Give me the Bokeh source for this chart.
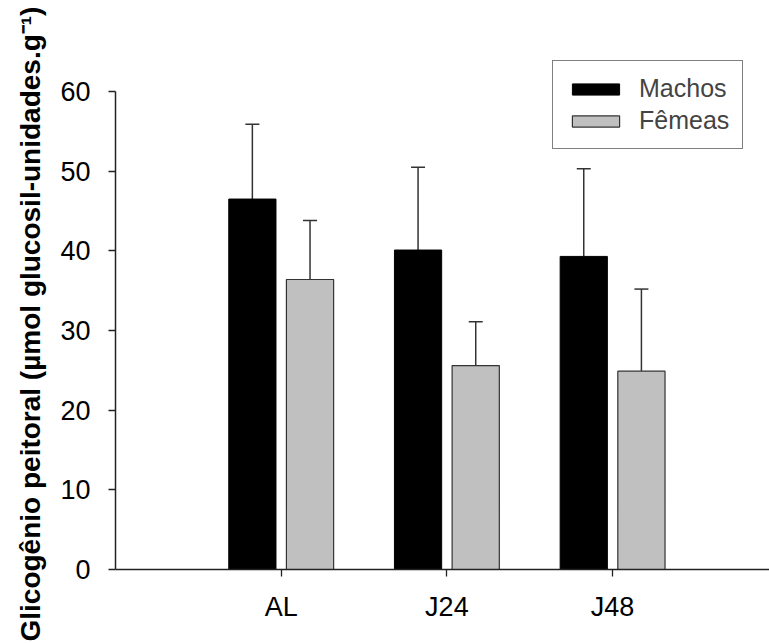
from bokeh.plotting import figure
from bokeh.models import (ColumnDataSource, Range1d, FixedTicker, Whisker, TeeHead,
                          Legend, LegendItem, Title)
from bokeh.embed import file_html
from bokeh.resources import INLINE

categories = ["AL", "J24", "J48"]
machos = [46.5, 40.1, 39.3]
machos_err = [9.4, 10.4, 11.0]
femeas = [36.4, 25.6, 24.9]
femeas_err = [7.4, 5.5, 10.3]
y_ticks = [0, 10, 20, 30, 40, 50, 60]
y_title = "Glicogênio peitoral (µmol glucosil-unidades.g⁻¹)"

FONT = "Liberation Sans"
offset = 0.174
bar_w = 0.285

pos = [i + 1 for i in range(len(categories))]
src_m = ColumnDataSource(dict(x=[p - offset for p in pos], top=machos,
                              upper=[v + e for v, e in zip(machos, machos_err)]))
src_f = ColumnDataSource(dict(x=[p + offset for p in pos], top=femeas,
                              upper=[v + e for v, e in zip(femeas, femeas_err)]))

# frame: 60 units over 478 px; extra headroom above 60 to hold the legend
frame_h = 519
y_top = 60 * frame_h / 478

p = figure(frame_width=654, frame_height=frame_h, output_backend="svg", toolbar_location=None,
           x_range=Range1d(0, 3.947), y_range=Range1d(0, y_top),
           min_border_left=115, min_border_top=569 - frame_h, min_border_bottom=74,
           min_border_right=0)
p.outline_line_color = None
p.xgrid.visible = False
p.ygrid.visible = False
p.background_fill_color = "white"

rm = p.vbar(x="x", top="top", width=bar_w, source=src_m, fill_color="black",
            line_color="black", line_width=1)
rf = p.vbar(x="x", top="top", width=bar_w, source=src_f, fill_color="#c0c0c0",
            line_color="#333333", line_width=1.2)

for src in (src_m, src_f):
    w = Whisker(base="x", lower="top", upper="upper", source=src,
                line_color="#333333", line_width=1.5,
                upper_head=TeeHead(size=14, line_color="#333333", line_width=1.5),
                lower_head=None)
    p.add_layout(w)

# axes
for ax in (p.xaxis[0], p.yaxis[0]):
    ax.axis_line_color = "#222222"
    ax.axis_line_width = 1.5
    ax.major_tick_line_color = "#222222"
    ax.major_tick_line_width = 1.3
    ax.major_tick_out = 7
    ax.major_tick_in = 0
    ax.minor_tick_line_color = None
    ax.major_label_text_font = FONT
    ax.major_label_text_font_size = "27px"
    ax.major_label_text_color = "black"

p.xaxis.major_label_standoff = 15
p.yaxis.major_label_standoff = 18
p.xaxis.ticker = FixedTicker(ticks=pos)
p.xaxis.major_label_overrides = {pp: c for pp, c in zip(pos, categories)}
p.yaxis.ticker = FixedTicker(ticks=y_ticks)
p.yaxis.bounds = (0, 60)

ttl = Title(text=y_title, align="left", offset=-72, standoff=24,
            text_font=FONT, text_font_style="bold", text_font_size="28px",
            text_color="black")
p.add_layout(ttl, "left")

legend = Legend(items=[LegendItem(label="Machos", renderers=[rm]),
                       LegendItem(label="Fêmeas", renderers=[rf])],
                location=(437, 420), orientation="vertical",
                label_text_font=FONT, label_text_font_size="25px",
                glyph_width=59, glyph_height=14, label_standoff=14,
                spacing=3, padding=13, margin=0,
                border_line_color="black", border_line_width=1.2,
                background_fill_color="white", background_fill_alpha=1)
p.add_layout(legend, "center")

open("out.html", "w").write(file_html(p, INLINE))
